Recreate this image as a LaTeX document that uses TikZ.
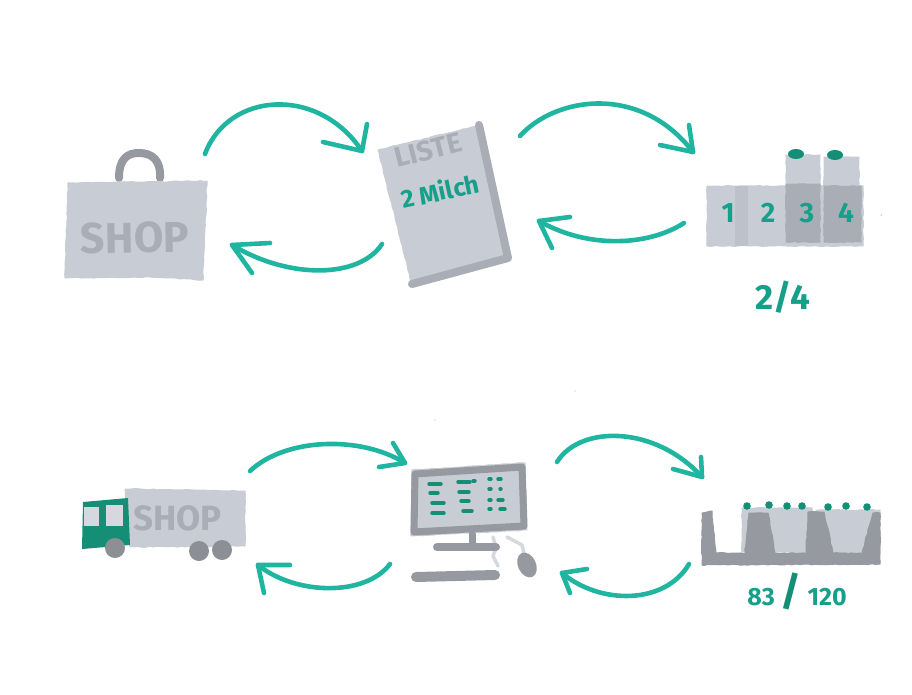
\documentclass[tikz,border=0pt]{standalone}
\usepackage{fontspec}
\setmainfont{Fira Sans}
\usetikzlibrary{decorations.pathmorphing}
\definecolor{teal1}{HTML}{1FB5A0}
\definecolor{teal2}{HTML}{15A08A}
\definecolor{teal3}{HTML}{148F76}
\definecolor{paper}{HTML}{C8CCD5}
\definecolor{papl}{HTML}{D5D8DF}
\definecolor{mid}{HTML}{A9ADB5}
\definecolor{dark}{HTML}{96999F}
\definecolor{ddark}{HTML}{8C8F94}
\tikzset{
  rough/.style={decorate,decoration={random steps,segment length=4pt,amplitude=.5pt}},
  wash/.style={rough,fill=paper,draw=paper,line width=1pt,line join=round},
  darkwash/.style={rough,fill=dark,draw=dark,line width=1pt,line join=round},
  midwash/.style={rough,fill=mid,draw=mid,line width=1pt,line join=round},
  pen/.style={draw=teal1,line width=4.6pt,line cap=round,line join=round},
  marker/.style={draw=dark,line cap=round,line join=round},
  tick/.style={draw=teal3,line width=3.4pt,line cap=round},
  word/.style={inner sep=0pt,font=\bfseries},
  penword/.style={word,text=teal2},
  dot/.style={fill=teal3,draw=none}
}
\begin{document}
\begin{tikzpicture}[x=1pt,y=-1pt]
\useasboundingbox (0,0) rectangle (912,695);
\pgfmathsetseed{7}
% ---------- shopping bag
\draw[marker,line width=8pt] (119,178) .. controls (119,158) and (128,153) .. (139,153) .. controls (152,153) and (161,160) .. (160,178);
\path[wash] (68,183) -- (207,181) -- (203,280) -- (150,277) -- (65,278) -- cycle;
\node[word,text=mid,font=\bfseries\fontsize{43}{43}\selectfont,rotate=1] (shop) at (135,238) {SHOP};
% ---------- list
\path[wash] (378,150) -- (477,126) -- (508,258) -- (412,285) -- cycle;
\draw[draw=mid,line width=8pt,line cap=round,line join=round] (479,125) -- (508,258) -- (412,284);
\node[word,text=mid,font=\bfseries\fontsize{28}{28}\selectfont,rotate=14] (liste) at (428,150) {LISTE};
\node[penword,font=\bfseries\fontsize{25}{25}\selectfont,rotate=12] (milch) at (440,191) {2 Milch};
% ---------- shelf with four bins
\path[wash] (786,155) rectangle (820,188);
\path[wash] (824,157) rectangle (859,188);
\path[wash] (707,186) rectangle (863,246);
\fill[mid,opacity=.35] (735,186) rectangle (748,246);
\path[midwash] (786,184) rectangle (820,242);
\path[midwash] (824,186) rectangle (861,242);
\fill[dot] (796,154) ellipse (8pt and 5pt);
\fill[dot] (835,155) ellipse (8pt and 5pt);
\foreach \n/\t/\x in {b1/1/728,b2/2/768,b3/3/807,b4/4/846}
  \node[penword,font=\bfseries\fontsize{28}{28}\selectfont] (\n) at (\x,213) {\t};
\node[penword,font=\bfseries\fontsize{35}{35}\selectfont] (frac) at (783,297) {2/4};
% ---------- truck
\path[wash] (125,489) -- (245,491) -- (245,546) -- (130,547) -- cycle;
\begin{scope}
  \clip (125,489) rectangle (245,547);
  \node[word,text=mid,font=\bfseries\fontsize{35}{35}\selectfont,anchor=west] (truckshop) at (133,518) {SHOP};
\end{scope}
\fill[teal3] (83,502) -- (128,498) -- (130,545) -- (82,549) -- cycle;
\fill[papl] (84,507) -- (99,507) -- (99,526) -- (84,526) -- cycle;
\fill[papl] (106,505) -- (123,505) -- (123,526) -- (106,526) -- cycle;
\fill[ddark] (115,548) circle (10pt) (199,551) circle (10pt) (222,550) circle (10pt);
% ---------- computer
\draw[papl,line width=3.5pt,line cap=round,line join=round] (493,537) -- (496,548) -- (493,556) -- (498,566);
\draw[papl,line width=3.5pt,line cap=round,line join=round] (507,537) -- (522,545) -- (525,558);
\path[wash] (412,470) -- (525,463) -- (527,530) -- (411,536) -- cycle;
\draw[marker,line width=7pt] (415,474) -- (522,467) -- (524,526) -- (414,532) -- cycle;
\draw[marker,line width=7pt] (472,534) -- (472,546);
\draw[marker,line width=8pt] (437,547) -- (496,547);
\draw[marker,line width=10pt] (416,577) -- (495,575);
\fill[dark,rotate around={25:(527,565)}] (527,565) ellipse (9pt and 13pt);
\foreach \xa/\xb/\y in {429/441/484,458/470/482,473/475/481,489/491/479,498/501/479,
                        430/438/493,459/469/492,489/491/489,500/501/489,
                        432/444/503,461/469/501,489/491/500,498/503/500,
                        432/444/513,463/472/511,489/491/509,500/505/509}
  \draw[tick] (\xa,\y) -- (\xb,\y);
% ---------- pallet
\path[wash] (742,508) rectangle (812,552);
\path[wash] (816,510) rectangle (880,552);
\path[darkwash] (749,513) -- (768,513) -- (775,553) -- (745,553) -- cycle;
\path[darkwash] (808,512) -- (824,512) -- (833,553) -- (806,553) -- cycle;
\path[darkwash] (873,513) -- (880,513) -- (880,553) -- (862,553) -- cycle;
\path[darkwash] (702,513) -- (712,511) -- (716,553) -- (880,553) -- (880,564) -- (702,565) -- cycle;
\foreach \x/\y in {747/506,769/505,787/506,802/506,828/507,846/506,867/507}
  \fill[dot] (\x,\y) circle (3.8pt);
\node[penword,font=\bfseries\fontsize{25}{25}\selectfont] (count) at (797,591) {83 \textcolor{teal3}{\fontsize{40}{40}\selectfont/} 120};
% ---------- specks
\fill[black!70] (881,215) circle (.5pt);
\fill[black!30] (575,391) circle (.6pt) (435,420) circle (.6pt);
% ---------- arrow ends
\coordinate (a1s) at (205,154); \coordinate (a1e) at (362,151); \coordinate (a1p) at (323,142); \coordinate (a1q) at (367,124);
\coordinate (a2s) at (382,244); \coordinate (a2e) at (232,245); \coordinate (a2p) at (270,243); \coordinate (a2q) at (252,273);
\coordinate (a3s) at (520,136); \coordinate (a3e) at (693,152); \coordinate (a3p) at (660,145); \coordinate (a3q) at (689,125);
\coordinate (a4s) at (684,223); \coordinate (a4e) at (539,221); \coordinate (a4p) at (570,217); \coordinate (a4q) at (552,248);
\coordinate (a5s) at (250,471); \coordinate (a5e) at (405,463); \coordinate (a5p) at (379,467); \coordinate (a5q) at (393,443);
\coordinate (a6s) at (390,564); \coordinate (a6e) at (258,565); \coordinate (a6p) at (290,565); \coordinate (a6q) at (264,593);
\coordinate (a7s) at (557,462); \coordinate (a7e) at (702,477); \coordinate (a7p) at (673,469); \coordinate (a7q) at (701,457);
\coordinate (a8s) at (689,564); \coordinate (a8e) at (562,573); \coordinate (a8p) at (587,569); \coordinate (a8q) at (570,593);
% ---------- arrows
\draw[pen] (a1s) .. controls (228,92) and (318,85) .. (a1e);
\draw[pen] (a2s) .. controls (360,278) and (290,280) .. (a2e);
\draw[pen] (a3s) .. controls (555,97) and (640,83) .. (a3e);
\draw[pen] (a4s) .. controls (650,245) and (590,250) .. (a4e);
\draw[pen] (a5s) .. controls (285,438) and (360,435) .. (a5e);
\draw[pen] (a6s) .. controls (365,597) and (295,595) .. (a6e);
\draw[pen] (a7s) .. controls (580,425) and (655,425) .. (a7e);
\draw[pen] (a8s) .. controls (665,605) and (600,605) .. (a8e);
\foreach \a in {a1,a2,a3,a4,a5,a6,a7,a8}
  \draw[pen] (\a p) -- (\a e) -- (\a q);
\end{tikzpicture}
\end{document}
